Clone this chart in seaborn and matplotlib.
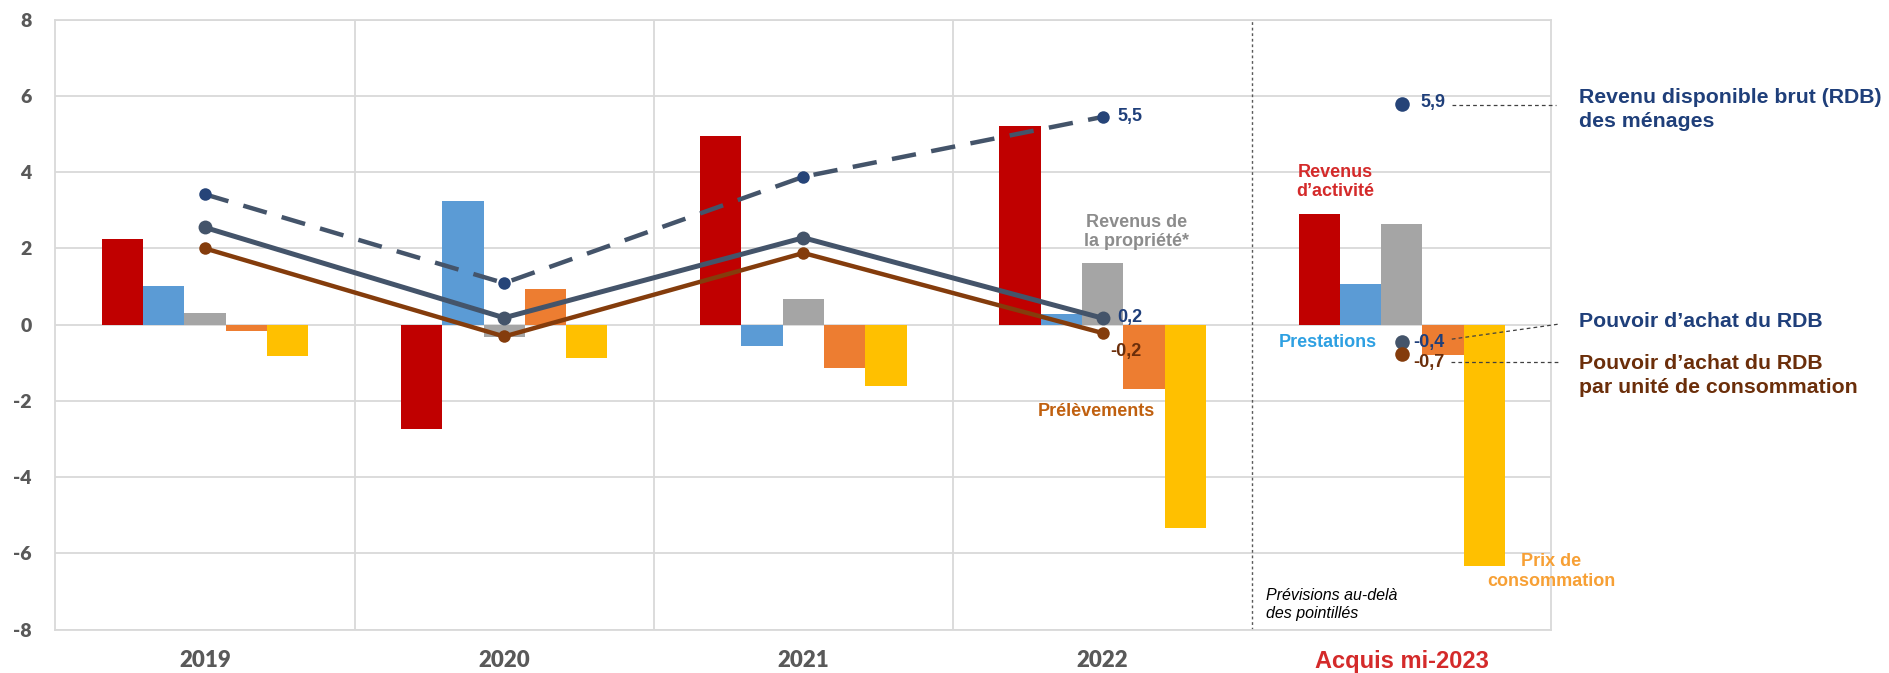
import matplotlib
matplotlib.use("Agg")
import matplotlib.pyplot as plt
import numpy as np
import pandas as pd
import seaborn as sns

# ---------------- data ----------------
categories = ["2019", "2020", "2021", "2022", "Acquis mi-2023"]
components = ["Revenus d’activité", "Prestations", "Revenus de la propriété",
              "Prélèvements", "Prix de consommation"]
revenus_activite = [2.25, -2.74, 4.94, 5.21, 2.89]
prestations = [1.02, 3.25, -0.55, 0.29, 1.07]
revenus_propriete = [0.30, -0.33, 0.67, 1.62, 2.65]
prelevements = [-0.16, 0.93, -1.15, -1.69, -0.79]
prix_conso = [-0.83, -0.88, -1.61, -5.33, -6.33]

rdb = [3.42, 1.09, 3.88, 5.45, 5.80]
pouvoir_achat = [2.55, 0.18, 2.28, 0.17, -0.45]
pouvoir_achat_uc = [2.00, -0.31, 1.88, -0.22, -0.76]

rdb_labels = ["5,5", "5,9"]
pa_labels = ["0,2", "-0,4"]
pauc_labels = ["-0,2", "-0,7"]

yticks = [-8, -6, -4, -2, 0, 2, 4, 6, 8]

# ---------------- styling ----------------
bar_colors = ["#C00000", "#5B9BD5", "#A5A5A5", "#ED7D31", "#FFC000"]
c_rdb_line = "#44546A"
c_rdb_mark = "#264478"
c_pa = "#44546A"
c_pauc = "#843C0C"
c_blue_txt = "#1F3F7A"
c_brown_txt = "#6B2E0A"
c_tick = "#595959"
c_grid = "#D9D9D9"

sns.set_theme(style="white")
plt.rcParams["font.family"] = ["Liberation Sans", "DejaVu Sans"]

df = pd.DataFrame({
    "categorie": np.repeat(categories, len(components)),
    "composante": components * len(categories),
    "valeur": np.column_stack([revenus_activite, prestations, revenus_propriete,
                               prelevements, prix_conso]).ravel(),
})

fig = plt.figure(figsize=(18.89, 6.73), dpi=100)
ax = fig.add_axes([0.0293, 0.0645, 0.8213 - 0.0293, 0.9707 - 0.0645])

sns.barplot(data=df, x="categorie", y="valeur", hue="composante",
            order=categories, hue_order=components, palette=bar_colors,
            width=0.69, gap=0, saturation=1, linewidth=0, errorbar=None,
            legend=False, ax=ax, zorder=2)

pos = np.arange(len(categories))
hist = pos[:4]

# lines 2019-2022
sns.lineplot(x=hist, y=rdb[:4], ax=ax, color=c_rdb_line, lw=3.2,
             linestyle=(0, (5.5, 3.5)), marker="o", markersize=9,
             markerfacecolor=c_rdb_mark, markeredgecolor=c_rdb_mark,
             markeredgewidth=0, zorder=5)
sns.lineplot(x=hist, y=pouvoir_achat[:4], ax=ax, color=c_pa, lw=3.6,
             marker="o", markersize=10, markerfacecolor=c_pa,
             markeredgecolor=c_pa, markeredgewidth=0, zorder=5)
sns.lineplot(x=hist, y=pouvoir_achat_uc[:4], ax=ax, color=c_pauc, lw=3.2,
             marker="o", markersize=9, markerfacecolor=c_pauc,
             markeredgecolor=c_pauc, markeredgewidth=0, zorder=5)

# acquis points
sns.scatterplot(x=pos[4:], y=rdb[4:], ax=ax, color=c_rdb_mark, s=110,
                linewidth=0, zorder=6)
sns.scatterplot(x=pos[4:], y=pouvoir_achat[4:], ax=ax, color=c_pa, s=110,
                linewidth=0, zorder=6)
sns.scatterplot(x=pos[4:], y=pouvoir_achat_uc[4:], ax=ax, color=c_pauc, s=110,
                linewidth=0, zorder=6)

# axes
ax.set_xlim(-0.5, 4.5)
ax.set_ylim(-8, 8)
ax.set_yticks(yticks)
ax.set_yticklabels([str(v) for v in yticks], fontfamily="Lato",
                   fontweight="heavy", fontsize=14, color=c_tick)
ax.set_xticks(pos)
ax.set_xticklabels(categories, fontfamily="Lato", fontweight="heavy",
                   fontsize=16, color=c_tick)
last = ax.get_xticklabels()[-1]
last.set_color("#D42A2A")
last.set_fontfamily("Liberation Sans")
last.set_fontweight("bold")
last.set_fontsize(17)
ax.tick_params(axis="y", length=0, pad=17)
ax.tick_params(axis="x", length=0, pad=15)
ax.set_xlabel("")
ax.set_ylabel("")

ax.yaxis.grid(True, color=c_grid, lw=1.3)
ax.set_axisbelow(True)
for b in pos[:3] + 0.5:
    ax.axvline(b, color=c_grid, lw=1.3, zorder=0)
ax.axvline(3.5, color="#595959", lw=1.0, ls=(0, (2, 2)), zorder=1)
for s in ax.spines.values():
    s.set_color(c_grid)
    s.set_linewidth(1.3)

# value labels
tb = dict(fontweight="bold", fontsize=13, va="center")
ax.text(3 + 0.05, rdb[3] + 0.01, rdb_labels[0], color=c_blue_txt, **tb)
ax.text(3 + 0.05, pouvoir_achat[3] + 0.02, pa_labels[0], color=c_blue_txt, **tb)
ax.text(3 + 0.027, pouvoir_achat_uc[3] - 0.48, pauc_labels[0], color=c_brown_txt, **tb)
ax.text(4 + 0.063, rdb[4] + 0.03, rdb_labels[1], color=c_blue_txt, **tb)
ax.text(4 + 0.039, pouvoir_achat[4] - 0.03, pa_labels[1], color=c_blue_txt, **tb)
ax.text(4 + 0.039, pouvoir_achat_uc[4] - 0.23, pauc_labels[1], color=c_brown_txt, **tb)

# category labels
cb = dict(fontweight="bold", fontsize=13, ha="center", va="center", linespacing=1.2)
ax.text(3.113, 2.43, "Revenus de\nla propriété*", color="#8C8C8C", **cb)
ax.text(2.98, -2.27, "Prélèvements", color="#C0600F", **cb)
ax.text(3.779, 3.74, "Revenus\nd’activité", color="#D42A2A", **cb)
ax.text(3.751, -0.48, "Prestations", color="#2EA0E2", **cb)
ax.text(4.5, -6.48, "Prix de\nconsommation", color="#F7A035", **cb)
ax.text(3.545, -7.33, "Prévisions au-delà\ndes pointillés", color="black",
        fontstyle="italic", fontsize=11.5, ha="left", va="center", linespacing=1.25)

# leader lines + right labels
ld = dict(color="#404040", lw=0.9, ls=(0, (3, 2.5)), clip_on=False, zorder=4)
ax.plot([4.169, 4.515], [5.77, 5.77], **ld)
ax.plot([4.167, 4.53], [-0.38, 0.02], **ld)
ax.plot([4.164, 4.53], [-0.99, -0.99], **ld)

rl = dict(fontweight="bold", fontsize=15.3, ha="left", va="center",
          linespacing=1.3, clip_on=False)
ax.text(4.593, 5.64, "Revenu disponible brut (RDB)\ndes ménages", color=c_blue_txt, **rl)
ax.text(4.593, 0.09, "Pouvoir d’achat du RDB", color=c_blue_txt, **rl)
ax.text(4.593, -1.33, "Pouvoir d’achat du RDB\npar unité de consommation",
        color=c_brown_txt, **rl)

fig.savefig("out.png", dpi=100)
